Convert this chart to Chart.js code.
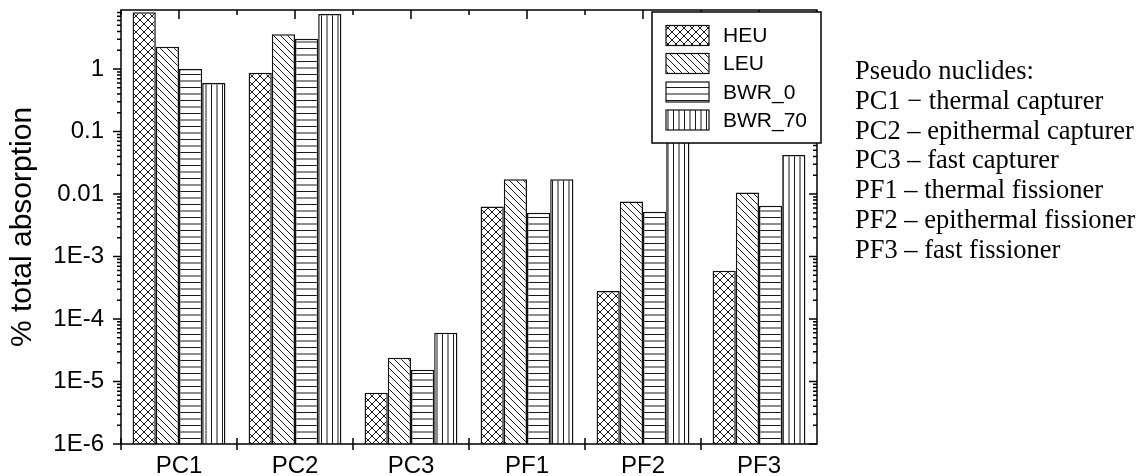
<!DOCTYPE html>
<html>
<head>
<meta charset="utf-8">
<script src="https://cdn.jsdelivr.net/npm/chart.js@4.4.1/dist/chart.umd.min.js"></script>
<style>
  html, body { margin: 0; padding: 0; background: #fff; }
  canvas { display: block; }
</style>
</head>
<body>
<canvas id="chart" width="1143" height="476"></canvas>
<script>
// Pseudo-nuclide absorption shares (% of total absorption) per fuel case
const categories = ['PC1', 'PC2', 'PC3', 'PF1', 'PF2', 'PF3'];
const seriesNames = ['HEU', 'LEU', 'BWR_0', 'BWR_70'];
const heu   = [8.1,  0.87, 6.6e-6,  0.0063, 2.8e-4, 5.9e-4];
const leu   = [2.27, 3.6,  2.4e-5,  0.0172, 0.0076, 0.0106];
const bwr0  = [1.0,  3.05, 1.54e-5, 0.0050, 0.0052, 0.0065];
const bwr70 = [0.60, 7.6,  6.0e-5,  0.0172, 0.30,   0.042];

const yTickValues = [1e-6, 1e-5, 1e-4, 1e-3, 0.01, 0.1, 1];
const yTickLabels = ['1E-6', '1E-5', '1E-4', '1E-3', '0.01', '0.1', '1'];

const noteLines = [
  'Pseudo nuclides:',
  'PC1 \u2212 thermal capturer',
  'PC2 \u2013 epithermal capturer',
  'PC3 \u2013 fast capturer',
  'PF1 \u2013 thermal fissioner',
  'PF2 \u2013 epithermal fissioner',
  'PF3 \u2013 fast fissioner'
];

const SANS = "'Liberation Sans', Arial, sans-serif";
const SERIF = "'Liberation Serif', 'Times New Roman', serif";

// Hatch fills for the four series
function makePattern(kind) {
  const c = document.createElement('canvas');
  const g = c.getContext('2d');
  let s;
  if (kind === 'cross') s = 8;
  else if (kind === 'back') s = 7;
  else if (kind === 'horiz') s = 13;
  else s = 11;
  c.width = s; c.height = s;
  g.fillStyle = '#fff';
  g.fillRect(0, 0, s, s);
  g.strokeStyle = '#1a1a1a';
  g.lineWidth = 1;
  g.beginPath();
  if (kind === 'cross' || kind === 'back') {
    for (const d of [-s, 0, s]) {
      g.moveTo(d, 0); g.lineTo(d + s, s);
    }
  }
  if (kind === 'cross') {
    for (const d of [-s, 0, s]) {
      g.moveTo(d + s, 0); g.lineTo(d, s);
    }
  }
  if (kind === 'horiz') {
    g.moveTo(0, 3); g.lineTo(s, 3);
    g.moveTo(0, 9.5); g.lineTo(s, 9.5);
  }
  if (kind === 'vert') {
    g.moveTo(2.5, 0); g.lineTo(2.5, s);
    g.moveTo(8, 0); g.lineTo(8, s);
  }
  g.stroke();
  return g.createPattern(c, 'repeat');
}

const fills = [makePattern('cross'), makePattern('back'), makePattern('horiz'), makePattern('vert')];
const seriesValues = [heu, leu, bwr0, bwr70];

const datasets = seriesNames.map((name, i) => ({
  label: name,
  data: seriesValues[i],
  backgroundColor: fills[i],
  borderColor: '#111',
  borderWidth: 1.5,
  borderSkipped: 'start',
  categoryPercentage: 0.8,
  barPercentage: 1.0
}));

// Box frame with ticks on all four sides, plus legend and note block
const framePlugin = {
  id: 'frame',
  afterDatasetsDraw(chart) {
    const { ctx, chartArea: a, scales: { x, y } } = chart;
    ctx.save();
    ctx.strokeStyle = '#000';
    ctx.lineWidth = 1.5;
    ctx.strokeRect(a.left, a.top, a.right - a.left, a.bottom - a.top);
    ctx.beginPath();
    const yMax = y.max;
    for (const v of yTickValues) {
      const p = y.getPixelForValue(v);
      ctx.moveTo(a.left - 8, p); ctx.lineTo(a.left, p);
      ctx.moveTo(a.right - 8, p); ctx.lineTo(a.right, p);
      for (let m = 2; m <= 9; m++) {
        const mv = v * m;
        if (mv > yMax) break;
        const mp = y.getPixelForValue(mv);
        ctx.moveTo(a.left - 4, mp); ctx.lineTo(a.left, mp);
        ctx.moveTo(a.right - 4, mp); ctx.lineTo(a.right, mp);
      }
    }
    const w = (a.right - a.left) / categories.length;
    for (let i = 0; i < categories.length; i++) {
      const c = x.getPixelForValue(i);
      ctx.moveTo(c, a.top); ctx.lineTo(c, a.top + 9);
      const b = c - w / 2;
      ctx.moveTo(b, a.top); ctx.lineTo(b, a.top + 5);
      ctx.moveTo(b, a.bottom - 6); ctx.lineTo(b, a.bottom + 6);
    }
    ctx.stroke();
    ctx.restore();
  },
  afterDraw(chart) {
    const { ctx } = chart;
    ctx.save();
    ctx.fillStyle = '#fff';
    ctx.fillRect(652, 12, 169, 131);
    ctx.strokeStyle = '#000';
    ctx.lineWidth = 1.5;
    ctx.strokeRect(652, 12, 169, 131);
    const rows = [35.5, 63.5, 92, 120];
    ctx.font = '21px ' + SANS;
    ctx.textBaseline = 'middle';
    ctx.textAlign = 'left';
    seriesNames.forEach((name, i) => {
      ctx.fillStyle = fills[i];
      ctx.fillRect(666, rows[i] - 10, 43, 20);
      ctx.strokeStyle = '#111';
      ctx.lineWidth = 1.2;
      ctx.strokeRect(666, rows[i] - 10, 43, 20);
      ctx.fillStyle = '#000';
      ctx.fillText(name, 723, rows[i] + 1);
    });
    ctx.font = '26.5px ' + SERIF;
    ctx.textBaseline = 'alphabetic';
    ctx.fillStyle = '#000';
    noteLines.forEach((t, i) => ctx.fillText(t, 855, 79 + i * 29.8));
    ctx.restore();
  }
};

new Chart(document.getElementById('chart'), {
  type: 'bar',
  data: { labels: categories, datasets },
  plugins: [framePlugin],
  options: {
    responsive: false,
    animation: false,
    layout: { padding: { left: 0, right: 326, top: 10, bottom: 0 } },
    plugins: { legend: { display: false }, tooltip: { enabled: false } },
    scales: {
      x: {
        grid: { display: false, drawTicks: false },
        border: { display: false },
        ticks: { font: { family: SANS, size: 24 }, color: '#000', padding: 8, maxRotation: 0 },
        afterFit(s) { s.height = 32; s.paddingLeft = 0; s.paddingRight = 0; }
      },
      y: {
        type: 'logarithmic',
        min: 1e-6,
        max: 8.8,
        afterBuildTicks(s) { s.ticks = yTickValues.map(v => ({ value: v, major: true })); },
        grid: { display: false, drawTicks: false },
        border: { display: false },
        ticks: {
          font: { family: SANS, size: 24 }, color: '#000', padding: 17, autoSkip: false,
          callback: (v, i) => yTickLabels[i]
        },
        title: {
          display: true, text: '% total absorption', color: '#000',
          font: { family: SANS, size: 30 }, padding: { top: 5, bottom: 0 }
        },
        afterFit(s) { s.width = 121; s.paddingTop = 0; s.paddingBottom = 0; }
      }
    }
  }
});
</script>
</body>
</html>
